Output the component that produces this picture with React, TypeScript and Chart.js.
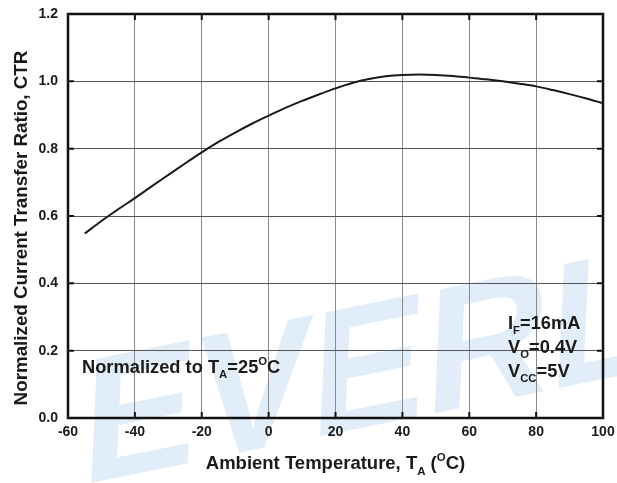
import React, { useEffect, useRef } from "react";
import { Chart, registerables } from "chart.js";

Chart.register(...registerables);

const temperatures = [-55, -50, -45, -40, -35, -30, -25, -20, -15, -10, -5, 0, 5, 10, 15, 20, 25, 30, 35, 40, 45, 50, 55, 60, 65, 70, 75, 80, 85, 90, 95, 100];
const ctrValues = [0.548, 0.585, 0.620, 0.653, 0.688, 0.722, 0.756, 0.789, 0.820, 0.848, 0.874, 0.898, 0.921, 0.942, 0.961, 0.979, 0.995, 1.007, 1.015, 1.019, 1.020, 1.019, 1.016, 1.011, 1.006, 1.000, 0.993, 0.985, 0.974, 0.962, 0.949, 0.935];
const xTicks = [-60, -40, -20, 0, 20, 40, 60, 80, 100];
const yTicks = [0, 0.2, 0.4, 0.6, 0.8, 1.0, 1.2];

const FONT = '"Liberation Sans", Arial, Helvetica, sans-serif';

type Seg = { t: string; sub?: boolean; sup?: boolean };

function drawRich(ctx: CanvasRenderingContext2D, segs: Seg[], x: number, y: number, size: number, align: "left" | "center" = "left") {
  const measure = (s: Seg) => {
    const sz = s.sub || s.sup ? size * 0.62 : size;
    ctx.font = `bold ${sz}px ${FONT}`;
    return ctx.measureText(s.t).width;
  };
  let total = 0;
  segs.forEach((s) => (total += measure(s)));
  let cx = align === "center" ? x - total / 2 : x;
  ctx.textAlign = "left";
  ctx.textBaseline = "alphabetic";
  segs.forEach((s) => {
    const sz = s.sub || s.sup ? size * 0.62 : size;
    ctx.font = `bold ${sz}px ${FONT}`;
    let yy = y;
    if (s.sub) yy = y + size * 0.3;
    if (s.sup) yy = y - size * 0.45;
    ctx.fillText(s.t, cx, yy);
    cx += ctx.measureText(s.t).width;
  });
}

const decorPlugin = {
  id: "decor",
  beforeDraw(chart: any) {
    const ctx = chart.ctx as CanvasRenderingContext2D;
    ctx.save();
    ctx.fillStyle = "rgba(200,223,242,0.55)";
    ctx.translate(80, 485);
    ctx.rotate(-0.2);
    ctx.transform(1, 0, -0.25, 1, 0, 0);
    ctx.font = `bold 175px ${FONT}`;
    ctx.textBaseline = "alphabetic";
    ctx.fillText("EVERLIGHT", 0, 0);
    ctx.restore();
  },
  afterDraw(chart: any) {
    const ctx = chart.ctx as CanvasRenderingContext2D;
    const { left, right, top, bottom } = chart.chartArea;
    const xs = chart.scales.x;
    const ys = chart.scales.y;
    ctx.save();
    ctx.strokeStyle = "#111";
    ctx.lineWidth = 2;
    ctx.beginPath();
    xTicks.forEach((v) => {
      const px = xs.getPixelForValue(v);
      ctx.moveTo(px, bottom);
      ctx.lineTo(px, bottom - 6);
      ctx.moveTo(px, top);
      ctx.lineTo(px, top + 6);
    });
    yTicks.forEach((v) => {
      const py = ys.getPixelForValue(v);
      ctx.moveTo(left, py);
      ctx.lineTo(left + 6, py);
      ctx.moveTo(right, py);
      ctx.lineTo(right - 6, py);
    });
    ctx.stroke();
    ctx.lineWidth = 2.5;
    ctx.strokeRect(left, top, right - left, bottom - top);

    ctx.fillStyle = "#1a1a1a";
    // x title
    drawRich(ctx, [
      { t: "Ambient Temperature, T" },
      { t: "A", sub: true },
      { t: " (" },
      { t: "O", sup: true },
      { t: "C)" },
    ], (left + right) / 2, 469, 18.5, "center");
    // y title
    ctx.save();
    ctx.translate(27, 228);
    ctx.rotate(-Math.PI / 2);
    drawRich(ctx, [{ t: "Normalized Current Transfer Ratio, CTR" }], 0, 0, 18.8, "center");
    ctx.restore();
    // annotations
    drawRich(ctx, [
      { t: "Normalized to T" },
      { t: "A", sub: true },
      { t: "=25" },
      { t: "O", sup: true },
      { t: "C" },
    ], 82, 373, 18.3);
    drawRich(ctx, [{ t: "I" }, { t: "F", sub: true }, { t: "=16mA" }], 508, 329, 18.3);
    drawRich(ctx, [{ t: "V" }, { t: "O", sub: true }, { t: "=0.4V" }], 508, 353, 18.3);
    drawRich(ctx, [{ t: "V" }, { t: "CC", sub: true }, { t: "=5V" }], 508, 377, 18.3);
    ctx.restore();
  },
};

export default function App() {
  const ref = useRef<HTMLCanvasElement | null>(null);
  useEffect(() => {
    document.body.style.margin = "0";
    const chart = new Chart(ref.current as HTMLCanvasElement, {
      type: "line",
      data: {
        datasets: [
          {
            data: temperatures.map((t, i) => ({ x: t, y: ctrValues[i] })),
            borderColor: "#1a1a1a",
            borderWidth: 2,
            pointRadius: 0,
            fill: false,
            cubicInterpolationMode: "monotone",
          },
        ],
      },
      options: {
        animation: false,
        responsive: true,
        maintainAspectRatio: false,
        layout: { padding: { left: 0, top: 14, right: 14, bottom: 0 } },
        plugins: { legend: { display: false }, tooltip: { enabled: false }, title: { display: false } },
        scales: {
          x: {
            type: "linear",
            min: -60,
            max: 100,
            afterBuildTicks: (s: any) => {
              s.ticks = xTicks.map((v) => ({ value: v }));
            },
            afterFit: (s: any) => {
              s.height = 65;
              s.paddingLeft = 0;
              s.paddingRight = 0;
            },
            grid: { color: "#8a8a8a", lineWidth: 1, drawTicks: false },
            border: { display: false },
            ticks: {
              padding: 6,
              color: "#1a1a1a",
              font: { family: FONT, size: 14, weight: "bold" },
              maxRotation: 0,
              callback: (v: any) => String(v),
            },
          },
          y: {
            type: "linear",
            min: 0,
            max: 1.2,
            afterBuildTicks: (s: any) => {
              s.ticks = yTicks.map((v) => ({ value: v }));
            },
            afterFit: (s: any) => {
              s.width = 68;
              s.paddingTop = 0;
              s.paddingBottom = 0;
            },
            grid: { color: "#555", lineWidth: 1, drawTicks: false },
            border: { display: false },
            ticks: {
              padding: 10,
              color: "#1a1a1a",
              font: { family: FONT, size: 14, weight: "bold" },
              callback: (v: any) => Number(v).toFixed(1),
            },
          },
        },
      },
      plugins: [decorPlugin],
    });
    return () => chart.destroy();
  }, []);
  return (
    <div style={{ position: "fixed", left: 0, top: 0, width: 617, height: 483, background: "#fff" }}>
      <canvas ref={ref} />
    </div>
  );
}
